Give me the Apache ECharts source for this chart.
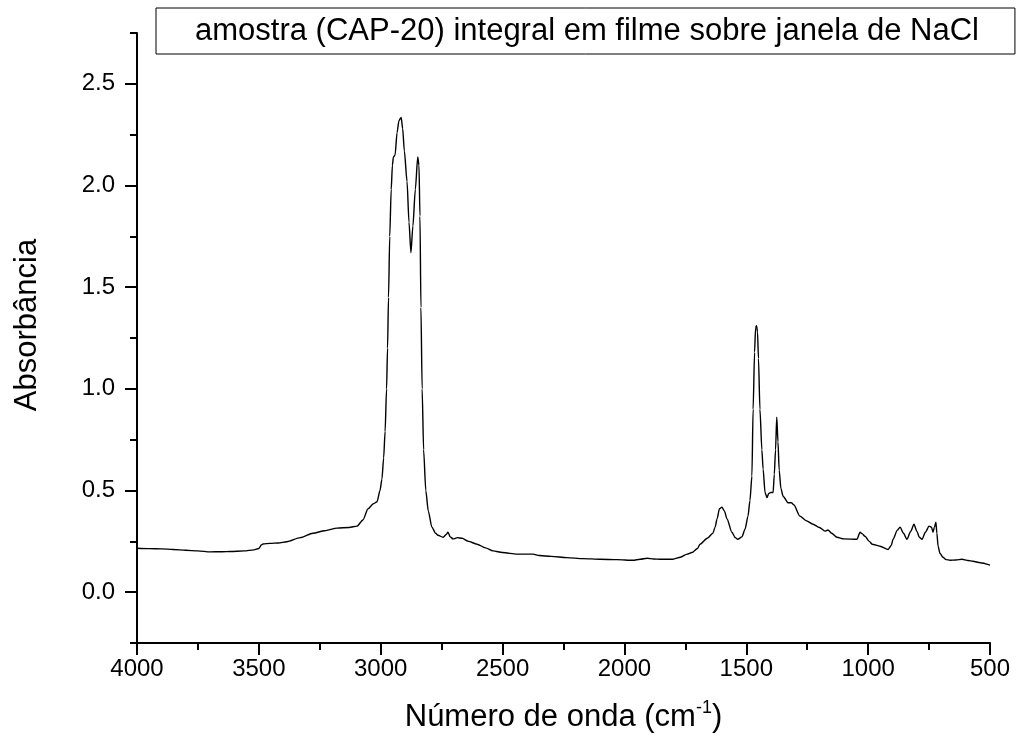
<!DOCTYPE html>
<html>
<head>
<meta charset="utf-8">
<script src="https://cdn.jsdelivr.net/npm/echarts@6/dist/echarts.min.js"></script>
<style>html,body{margin:0;padding:0;background:#fff}#c{width:1020px;height:746px}</style>
</head>
<body>
<div id="c"></div>
<script>
const seriesName = 'amostra (CAP-20) integral em filme sobre janela de NaCl';
const wavenumbers = [4000,3950,3900,3852,3800,3750,3700,3650,3618,3560,3520,3500,3490,3483,3454,3420,3385,3330,3278,3230,3179,3130,3097,3073,3052,3030,3015,3003,2995,2988,2982,2976,2972,2968,2963,2957,2952,2948,2941,2933,2925,2916,2910,2903,2892,2884,2876,2868,2858,2848,2843,2839,2835,2830,2824,2815,2805,2790,2775,2765,2744,2730,2724,2715,2703,2685,2666,2640,2605,2570,2539,2500,2441,2375,2350,2300,2236,2170,2100,2030,1965,1935,1907,1880,1854,1801,1770,1743,1723,1700,1690,1660,1637,1628,1620,1610,1600,1590,1579,1559,1545,1535,1518,1505,1493,1485,1477,1472,1466,1462,1458,1454,1450,1444,1436,1431,1423,1415,1408,1400,1390,1385,1380,1375,1370,1365,1358,1349,1329,1315,1305,1280,1255,1226,1200,1177,1165,1150,1128,1100,1046,1033,1025,1013,995,984,951,918,905,898,880,869,855,841,825,812,800,790,779,765,750,740,734,728,722,718,713,705,693,680,664,640,615,590,570,540,500];
const absorbance = [0.216,0.214,0.213,0.210,0.206,0.203,0.198,0.199,0.200,0.203,0.208,0.215,0.232,0.237,0.240,0.242,0.248,0.268,0.290,0.302,0.315,0.318,0.325,0.355,0.410,0.435,0.445,0.50,0.556,0.66,0.79,1.00,1.20,1.45,1.75,1.98,2.10,2.14,2.15,2.26,2.32,2.335,2.28,2.17,2.02,1.82,1.67,1.80,1.98,2.14,2.10,1.85,1.40,1.00,0.70,0.50,0.40,0.32,0.29,0.28,0.270,0.285,0.295,0.272,0.262,0.268,0.265,0.250,0.236,0.218,0.203,0.195,0.187,0.187,0.180,0.176,0.170,0.165,0.162,0.160,0.157,0.162,0.167,0.163,0.162,0.162,0.172,0.187,0.195,0.215,0.236,0.265,0.290,0.32,0.36,0.41,0.418,0.40,0.36,0.295,0.268,0.260,0.272,0.310,0.374,0.45,0.57,0.90,1.18,1.30,1.31,1.28,1.15,0.90,0.70,0.605,0.49,0.465,0.485,0.49,0.49,0.58,0.70,0.86,0.74,0.60,0.51,0.472,0.44,0.44,0.43,0.374,0.352,0.334,0.318,0.300,0.306,0.290,0.270,0.262,0.260,0.295,0.288,0.275,0.250,0.236,0.226,0.210,0.230,0.260,0.305,0.320,0.290,0.260,0.300,0.334,0.300,0.270,0.260,0.295,0.325,0.320,0.295,0.320,0.344,0.290,0.226,0.190,0.172,0.160,0.157,0.158,0.162,0.156,0.152,0.145,0.133];
const yMajorTicks = [0, 0.5, 1.0, 1.5, 2.0, 2.5];
const xTitle = 'Número de onda (cm{sup|-1})';
const yTitle = 'Absorbância';

const data = wavenumbers.map((w, i) => [w, absorbance[i]]);
const chart = echarts.init(document.getElementById('c'), null, {renderer: 'canvas'});
const font = '"Liberation Sans", Arial, sans-serif';
chart.setOption({
  animation: false,
  backgroundColor: '#fff',
  textStyle: {fontFamily: font, color: '#000'},
  grid: {left: 137, right: 30, top: 33, bottom: 103, containLabel: false},
  legend: {
    data: [seriesName],
    left: 156, top: 8,
    icon: 'none', itemWidth: 0, itemHeight: 0,
    borderColor: '#000', borderWidth: 1, borderRadius: 0,
    padding: [6, 36, 6, 34],
    selectedMode: false,
    textStyle: {fontFamily: font, fontSize: 31, lineHeight: 34, color: '#000'}
  },
  xAxis: {
    type: 'value', min: 500, max: 4000, interval: 500, inverse: true,
    name: xTitle, nameLocation: 'middle', nameGap: 56,
    nameTextStyle: {fontFamily: font, fontSize: 31, color: '#000', lineHeight: 36,
      rich: {sup: {fontFamily: font, fontSize: 18, color: '#000', verticalAlign: 'top', lineHeight: 36, padding: [0, 0, 16, 0]}}},
    axisLine: {show: true, onZero: false, lineStyle: {color: '#000', width: 2}},
    axisTick: {show: true, inside: false, length: 12, lineStyle: {color: '#000', width: 2}},
    minorTick: {show: true, splitNumber: 2, length: 7, lineStyle: {color: '#000', width: 2}},
    axisLabel: {fontFamily: font, fontSize: 24, color: '#000', margin: 14, formatter: v => String(v)},
    splitLine: {show: false}
  },
  yAxis: [{
    type: 'value', min: -0.25, max: 2.75, position: 'left',
    name: yTitle, nameLocation: 'middle', nameGap: 94, nameRotate: 90,
    nameTextStyle: {fontFamily: font, fontSize: 31, color: '#000', padding: [0, 0, 0, 26]},
    axisLine: {show: true, onZero: false, lineStyle: {color: '#000', width: 2}},
    axisTick: {show: true, length: 12, customValues: yMajorTicks, lineStyle: {color: '#000', width: 2}},
    axisLabel: {fontFamily: font, fontSize: 24, color: '#000', margin: 22, customValues: yMajorTicks,
      formatter: v => v.toFixed(1)},
    splitLine: {show: false}
  }, {
    type: 'value', min: -0.25, max: 2.75, interval: 0.25, position: 'left',
    axisLine: {show: false},
    axisTick: {show: true, length: 7, lineStyle: {color: '#000', width: 2}},
    axisLabel: {show: false},
    splitLine: {show: false}
  }],
  series: [{
    name: seriesName, type: 'line', data: data, yAxisIndex: 0,
    showSymbol: false, symbol: 'none', smooth: 0.25, smoothMonotone: 'x',
    lineStyle: {color: '#000', width: 1.4},
    itemStyle: {color: '#000'}
  }]
});
</script>
</body>
</html>
